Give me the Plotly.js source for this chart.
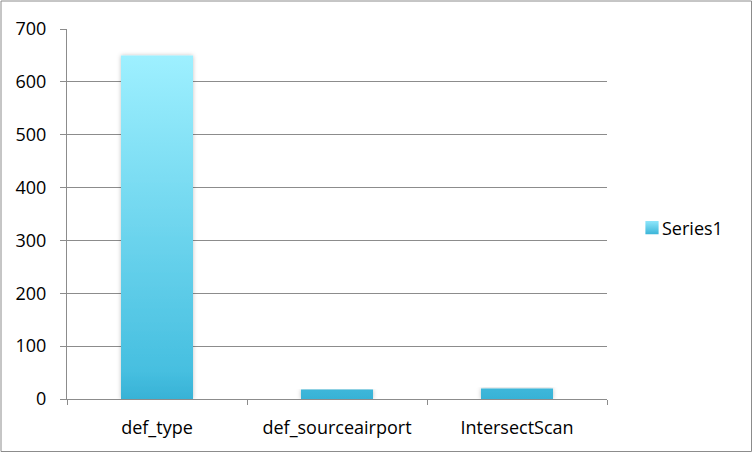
<!DOCTYPE html>
<html>
<head>
<meta charset="utf-8">
<script src="https://cdn.plot.ly/plotly-3.0.1.min.js"></script>
<style>
html,body{margin:0;padding:0;background:#fff;}
#chart{width:753px;height:453px;}
</style>
</head>
<body>
<div id="chart"></div>
<script>
const categories = ["def_type", "def_sourceairport", "IntersectScan"];
const series1 = [650, 18, 20];
const seriesName = "Series1";
const yTicks = [0, 100, 200, 300, 400, 500, 600, 700];

const L = 67, R = 607, T = 29, B = 399, W = 753, H = 453;
const pw = R - L, ph = B - T;

const data = [{
  type: "bar",
  x: categories,
  y: series1,
  name: seriesName,
  width: 0.4,
  marker: {color: "#5ccbe8", line: {width: 0}},
  showlegend: true,
  hoverinfo: "none"
}];

const layout = {
  width: W, height: H,
  margin: {l: L, r: W - R, t: T, b: H - B, pad: 0},
  paper_bgcolor: "#ffffff",
  plot_bgcolor: "#ffffff",
  font: {family: "Open Sans, Liberation Sans, sans-serif", size: 18, color: "#000"},
  showlegend: true,
  legend: {x: (622 - L) / pw, xanchor: "left", y: (B - 228) / ph, yanchor: "middle",
           font: {size: 18, color: "#000"}, bgcolor: "rgba(0,0,0,0)", itemwidth: 30},
  xaxis: {
    type: "category",
    showgrid: false,
    showline: true, linecolor: "#8c8c8c", linewidth: 1,
    ticks: "outside", tickson: "boundaries", ticklen: 5, tickcolor: "#8c8c8c",
    ticklabelstandoff: 12,
    tickfont: {size: 18, color: "#000"},
    fixedrange: true
  },
  yaxis: {
    range: [0, 700],
    tickvals: yTicks,
    ticktext: yTicks.map(String),
    showgrid: true, gridcolor: "#8c8c8c", gridwidth: 1,
    showline: true, linecolor: "#8c8c8c", linewidth: 1,
    ticks: "outside", ticklen: 6, tickcolor: "#8c8c8c",
    ticklabelstandoff: 10,
    zeroline: false,
    tickfont: {size: 18, color: "#000"},
    fixedrange: true
  },
  shapes: [{
    type: "rect", xref: "paper", yref: "paper",
    x0: (1 - L) / pw, x1: (751.5 - L) / pw,
    y0: (B - 451.5) / ph, y1: (B - 1) / ph,
    line: {color: "#8c8c8c", width: 1}, fillcolor: "rgba(0,0,0,0)", layer: "below"
  }],
  bargap: 0.6
};

Plotly.newPlot("chart", data, layout, {displayModeBar: false, staticPlot: true}).then(function (gd) {
  const svg = gd.querySelector("svg.main-svg");
  const ns = "http://www.w3.org/2000/svg";
  let defs = svg.querySelector("defs");
  if (!defs) { defs = document.createElementNS(ns, "defs"); svg.insertBefore(defs, svg.firstChild); }
  const grad = document.createElementNS(ns, "linearGradient");
  grad.setAttribute("id", "barGrad");
  grad.setAttribute("gradientUnits", "userSpaceOnUse");
  grad.setAttribute("x1", "0"); grad.setAttribute("x2", "0");
  grad.setAttribute("y1", "26"); grad.setAttribute("y2", String(ph));
  [["0", "#9ef0ff"], ["0.92", "#46bfe0"], ["1", "#38b2d6"]].forEach(function (s) {
    const st = document.createElementNS(ns, "stop");
    st.setAttribute("offset", s[0]); st.setAttribute("stop-color", s[1]);
    grad.appendChild(st);
  });
  defs.appendChild(grad);
  const filt = document.createElementNS(ns, "filter");
  filt.setAttribute("id", "barShadow");
  filt.setAttribute("x", "-20%"); filt.setAttribute("y", "-5%");
  filt.setAttribute("width", "140%"); filt.setAttribute("height", "110%");
  const ds = document.createElementNS(ns, "feDropShadow");
  ds.setAttribute("dx", "0"); ds.setAttribute("dy", "0");
  ds.setAttribute("stdDeviation", "2"); ds.setAttribute("flood-color", "#000");
  ds.setAttribute("flood-opacity", "0.25");
  filt.appendChild(ds);
  defs.appendChild(filt);
  gd.querySelectorAll(".barlayer .point path").forEach(function (p) {
    p.style.fill = "url(#barGrad)";
    p.setAttribute("filter", "url(#barShadow)");
  });
  const lg = document.createElementNS(ns, "linearGradient");
  lg.setAttribute("id", "legGrad");
  lg.setAttribute("x1", "0"); lg.setAttribute("x2", "0");
  lg.setAttribute("y1", "0"); lg.setAttribute("y2", "1");
  [["0", "#8ee6fb"], ["1", "#3bb5d8"]].forEach(function (s) {
    const st = document.createElementNS(ns, "stop");
    st.setAttribute("offset", s[0]); st.setAttribute("stop-color", s[1]);
    lg.appendChild(st);
  });
  defs.appendChild(lg);
  gd.querySelectorAll(".legend .legendpoints path").forEach(function (p) {
    const old = p.getAttribute("transform") || "";
    p.setAttribute("transform", "translate(10,0) " + old + " scale(1.1)");
    p.style.fill = "url(#legGrad)";
  });
});
</script>
</body>
</html>
